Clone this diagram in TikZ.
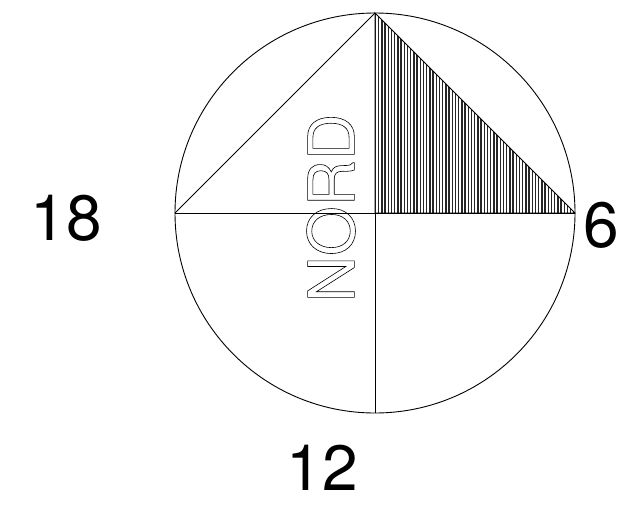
\documentclass[tikz,border=0pt]{standalone}
\usepackage{fontspec}
\setmainfont{TeX Gyre Heros}
\begin{document}
\begin{tikzpicture}[x=1pt,y=-1pt,
  thin line/.style={line width=0.9pt,black},
  hour/.style={font=\fontsize{64}{64}\selectfont,inner sep=0pt,anchor=center},
  hatch/.style={line width=1.4pt,black!85}]
\useasboundingbox (0,0) rectangle (618,506);
\coordinate (C) at (375,213);
\coordinate (T) at (375,13);
\coordinate (B) at (375,413);
\coordinate (L) at (175,213);
\coordinate (R) at (575,213);
% hatched triangle
\begin{scope}
  \clip (T) -- (C) -- (R) -- cycle;
  \foreach \x in {375.5,378.7,...,576} {\draw[hatch] (\x,10) -- (\x,215);}
\end{scope}
\draw[thin line] (T) -- (C) -- (R) -- cycle;
\draw[thin line] (C) circle[radius=200];
\draw[thin line] (L) -- (R);
\draw[thin line] (C) -- (B);
\draw[thin line] (L) -- (T);
\node[hour] (h18) at (66,218) {18};
\node[hour] (h6) at (601,225) {6};
\node[hour] (h12) at (322,468) {12};
\node[hour,rotate=90] (nord) at (331,208)
  {\special{pdf:literal direct q 1 Tr 0.6 w}NORD\special{pdf:literal direct Q}};
\end{tikzpicture}
\end{document}
